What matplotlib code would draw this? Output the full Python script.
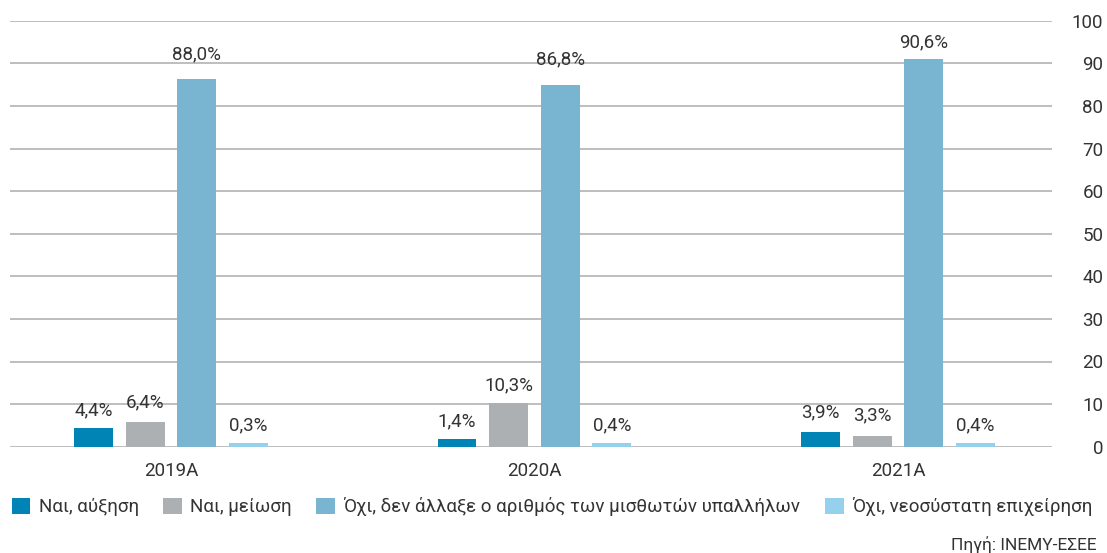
import matplotlib.pyplot as plt
import numpy as np

plt.rcParams['font.family'] = ['Roboto', 'DejaVu Sans']

years = ['2019A', '2020A', '2021A']

# bar heights as drawn, and the printed labels (they differ a bit in the source)
nai_auxisi = [4.4, 1.8, 3.4]
nai_meiosi = [5.8, 10.2, 2.5]
oxi_idio = [86.4, 84.8, 90.9]
oxi_neo = [0.9, 0.9, 0.9]

lbl_auxisi = [4.4, 1.4, 3.9]
lbl_meiosi = [6.4, 10.3, 3.3]
lbl_idio = [88.0, 86.8, 90.6]
lbl_neo = [0.3, 0.4, 0.4]

names = ['Ναι, αύξηση', 'Ναι, μείωση',
         'Όχι, δεν άλλαξε ο αριθμός των μισθωτών υπαλλήλων',
         'Όχι, νεοσύστατη επιχείρηση']
colors = ['#0084B6', '#ADB0B3', '#79B4D1', '#95D0EC']

heights = [nai_auxisi, nai_meiosi, oxi_idio, oxi_neo]
labels = [lbl_auxisi, lbl_meiosi, lbl_idio, lbl_neo]

txt = '#333333'
fig = plt.figure(figsize=(11.07, 5.53), dpi=100)
ax = fig.add_axes([10 / 1107, 1 - 446.7 / 553, 1042 / 1107, 426 / 553])

x = np.arange(len(years))
w = 0.107
step = 0.142
handles = []
for i in range(4):
    xs = x + (i - 1.5) * step
    b = ax.bar(xs, heights[i], width=w, color=colors[i], zorder=3, label=names[i])
    handles.append(b)
    for xi, h, lv in zip(xs, heights[i], labels[i]):
        ax.annotate(f'{lv:.1f}%'.replace('.', ','), (xi, max(h, lv)),
                    xytext=(0, 6), textcoords='offset points',
                    ha='center', va='bottom', fontsize=13.5, color=txt)

ax.set_xlim(-0.443, 2.424)
ax.set_ylim(0, 100)
ax.set_yticks(range(0, 101, 10))
ax.set_xticks(x)
ax.set_xticklabels(years)
ax.grid(axis='y', color='#BEBEBE', linewidth=1.4, zorder=0)
for s in ax.spines.values():
    s.set_visible(False)
ax.tick_params(axis='x', length=0, pad=11, labelsize=13.5, colors=txt)
ax.tick_params(axis='y', length=0, left=False, labelleft=False,
               right=True, labelright=True, pad=37, labelsize=13.5, colors=txt)
for t in ax.get_yticklabels():
    t.set_horizontalalignment('right')

fig.legend(handles=handles, loc='center left', bbox_to_anchor=(4 / 1107, 1 - 507 / 553),
           ncol=4, frameon=False, fontsize=13.5, handlelength=1.0, handleheight=1.0,
           handletextpad=0.45, columnspacing=1.3, labelcolor=txt, borderaxespad=0)

fig.text(1097 / 1107, 1 - 545 / 553, 'Πηγή: ΙΝΕΜΥ-ΕΣΕΕ', ha='right', va='center',
         fontsize=12.5, color=txt)

fig.savefig('out.png', dpi=100)
